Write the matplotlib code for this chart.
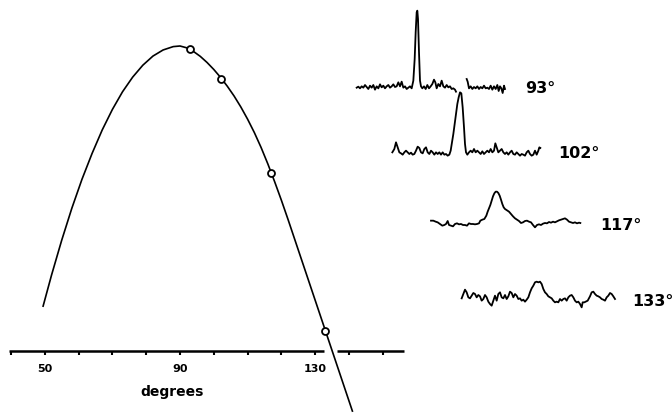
import numpy as np
import matplotlib
matplotlib.use("Agg")
import matplotlib.pyplot as plt

# ---- main curve: signal vs. angle (degrees) ----
curve_deg = [49.5, 52, 55, 58, 61, 64, 67, 70, 73, 76, 79, 82, 85, 88, 90,
             92, 94, 96, 98, 100, 102, 104, 106, 108, 110, 112, 114, 116, 118,
             120, 122, 124, 126, 128, 130, 132, 134, 136, 138, 141]
curve_val = [14.7, 24.9, 36.3, 46.8, 56.3, 64.8, 72.5, 79.2, 85.0, 89.8, 93.7, 96.7, 98.7, 99.8, 100.0,
             99.4, 98.2, 96.6, 94.6, 92.3, 89.7, 86.8, 83.6, 80.0, 76.0, 71.6, 66.7, 61.3, 55.5,
             49.4, 43.0, 36.4, 29.8, 23.2, 16.6, 10.0, 3.4, -3.2, -9.8, -19.7]

angles = [93, 102, 117, 133]
point_val = [98.9, 89.2, 58.4, 6.5]

tick_deg = list(range(40, 160, 10))
tick_lab = {50: "50", 90: "90", 130: "130"}

# ---- spectra recorded at each angle (channel, counts) ----
t93_ch = [20, 25, 30, 35, 40, 45, 50, 55, 60, 65, 70, 75, 80, 85, 90, 95, 100, 105, 110, 115,
          120, 125, 130, 135, 140, 145, 150, 155, 160, 165, 170, 175, 180, 185, 190, 194, 197,
          200, 202, 204, 207, 210, 213, 217, 222, 227, 232, 237, 242, 247, 252, 256, 260, 265,
          270, 275, 280, 285, 290, 295, 300, 305, 310, 315, 318, np.nan,
          350, 353, 357, 362, 367, 372, 377, 382, 387, 392, 397, 402, 407, 412, 417, 422, 427,
          432, 437, 442, 446, 450, 454, 458, 462, 465]
t93_ct = [34, 37, 32, 38, 34, 42, 36, 30, 40, 34, 42, 28, 38, 32, 44, 35, 40, 32, 38, 42,
          34, 38, 44, 36, 38, 50, 38, 52, 34, 38, 30, 34, 38, 32, 55, 120, 200,
          260, 265, 240, 140, 55, 38, 32, 38, 30, 42, 32, 38, 45, 58, 50, 32, 45,
          38, 55, 38, 34, 42, 35, 38, 30, 32, 28, 22, np.nan,
          60, 52, 32, 38, 30, 36, 32, 38, 30, 36, 32, 40, 32, 34, 30, 40, 28,
          38, 30, 42, 24, 38, 32, 18, 40, 30]

t102_ch = [22, 28, 33, 38, 43, 48, 53, 58, 63, 68, 73, 78, 83, 88, 93, 98, 103, 108, 113, 118,
           123, 128, 133, 138, 143, 148, 153, 158, 163, 168, 173, 178, 183, 188, 193, 197, 201,
           205, 209, 213, 217, 221, 225, 229, 233, 237, 240, 243, 247, 252, 257, 262, 267, 272,
           277, 282, 287, 292, 297, 302, 307, 312, 317, 322, 327, 331, 335, 340, 345, 350, 355,
           360, 365, 370, 375, 380, 385, 390, 395, 400, 405, 410, 415, 420, 425, 430, 435, 440,
           445, 450, 455, 460, 463, 466]
t102_ct = [35, 45, 65, 50, 35, 32, 28, 35, 40, 35, 30, 34, 28, 30, 40, 52, 48, 35, 32, 45,
           50, 35, 30, 40, 35, 28, 35, 30, 35, 28, 35, 28, 30, 25, 28, 40, 65,
           90, 120, 150, 180, 200, 215, 212, 170, 110, 60, 35, 28, 35, 40, 35, 45, 35,
           40, 35, 30, 38, 30, 35, 40, 35, 45, 35, 40, 62, 50, 35, 40, 45, 35,
           30, 35, 28, 35, 40, 30, 28, 35, 30, 25, 30, 28, 25, 35, 40, 30, 25,
           28, 40, 28, 40, 50, 48]

t117_ch = [18, 25, 32, 38, 45, 52, 58, 63, 68, 72, 78, 84, 90, 96, 102, 108, 114, 120, 126, 132,
           138, 144, 150, 156, 162, 166, 172, 178, 184, 188, 192, 196, 200, 204, 208, 212, 216,
           220, 224, 228, 232, 236, 240, 246, 252, 258, 264, 270, 276, 282, 288, 294, 300, 306,
           312, 318, 324, 330, 336, 342, 348, 354, 360, 366, 372, 378, 384, 390, 396, 402, 408,
           414, 420, 426, 432, 438, 444, 450, 456, 462, 466]
t117_ct = [35, 35, 32, 30, 25, 20, 22, 25, 34, 22, 20, 18, 25, 27, 24, 25, 22, 22, 20, 27,
           25, 25, 24, 25, 27, 35, 38, 40, 50, 62, 72, 82, 95, 108, 117, 122, 122,
           118, 110, 98, 85, 75, 70, 66, 62, 55, 48, 42, 38, 34, 28, 30, 34, 35,
           32, 30, 22, 15, 22, 24, 22, 26, 28, 27, 31, 29, 32, 30, 33, 36, 38,
           40, 42, 38, 32, 30, 28, 30, 27, 29, 28]

t133_ch = [20, 25, 30, 35, 40, 45, 50, 55, 60, 65, 70, 75, 80, 85, 90, 95, 100, 105, 110, 115,
           120, 125, 130, 135, 140, 145, 150, 155, 160, 165, 170, 175, 180, 185, 190, 195, 200,
           205, 210, 215, 220, 225, 230, 235, 240, 245, 250, 255, 260, 265, 270, 275, 280, 285,
           290, 295, 300, 305, 310, 315, 320, 325, 330, 335, 340, 345, 350, 355, 360, 365, 370,
           375, 380, 383, 388, 392, 398, 405, 410, 415, 420, 425, 430, 435, 440, 445, 450, 455,
           460, 465, 470, 475, 480]
t133_ct = [32, 45, 58, 50, 35, 32, 40, 48, 45, 35, 42, 38, 25, 30, 42, 35, 22, 15, 10, 25,
           40, 25, 45, 50, 35, 32, 42, 30, 38, 52, 48, 35, 45, 40, 30, 32, 25,
           28, 22, 28, 35, 50, 62, 70, 80, 82, 80, 82, 75, 60, 50, 45, 38, 35,
           32, 25, 20, 22, 20, 30, 25, 30, 32, 25, 35, 40, 42, 35, 25, 20, 22,
           15, 5, 20, 20, 22, 25, 38, 50, 52, 45, 40, 38, 35, 30, 28, 25, 35,
           40, 48, 45, 38, 30]

W, H = 672, 414
fig = plt.figure(figsize=(W / 100, H / 100), dpi=100)

# ---- left: curve with axis ----
ax = fig.add_axes([0, 0, 420 / W, 1])
ax.set_xlim(36.75, 161.0)
ax.set_ylim(-20.33, 115.41)
ax.plot(curve_deg, curve_val, color="black", lw=1.2)
ax.plot(angles, point_val, "o", ms=5, mfc="white", mec="black", mew=1.3)

for s in ax.spines.values():
    s.set_visible(False)
ax.spines["bottom"].set_position(("data", 0))
# axis line, broken where the curve crosses it
ax.hlines(0, 39.4, 132.6, color="black", lw=1.8)
ax.hlines(0, 136.5, 156.2, color="black", lw=1.8)
ax.set_xticks(tick_deg)
ax.set_xticklabels([tick_lab.get(t, "") for t in tick_deg], fontsize=8, fontweight="bold")
ax.tick_params(axis="x", direction="out", length=3, width=1.5, pad=6)
ax.set_yticks([])
ax.set_xlabel("degrees", fontsize=10, fontweight="bold")
ax.xaxis.set_label_coords(172 / 420, 1 - 385 / H)

# ---- right: spectra ----
traces = [
    (t93_ch, t93_ct, (350, 0, 160, 100), 300),
    (t102_ch, t102_ct, (385, 85, 160, 80), 240),
    (t117_ch, t117_ct, (425, 180, 160, 55), 160),
    (t133_ch, t133_ct, (455, 270, 165, 45), 120),
]
for ch, ct, (x0, y0, w, h), top in traces:
    tax = fig.add_axes([x0 / W, 1 - (y0 + h) / H, w / W, h / H])
    tax.plot(ch, ct, color="black", lw=1.3)
    tax.set_xlim(0, w * 3)
    tax.set_ylim(top - h * 3, top)
    tax.axis("off")

label_pos = [(525, 93), (558, 158), (600, 230), (632, 306)]
for a, (lx, ly) in zip(angles, label_pos):
    fig.text(lx / W, 1 - ly / H, f"{a}°", fontsize=11.5, fontweight="bold",
             ha="left", va="baseline")

fig.savefig("out.png", dpi=100)
